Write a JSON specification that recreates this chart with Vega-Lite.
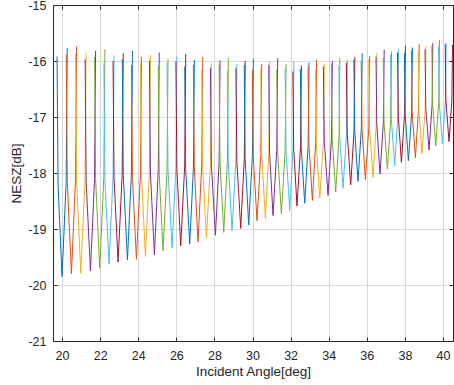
{
  "$schema": "https://vega.github.io/schema/vega-lite/v6.json",
  "width": 400,
  "height": 336,
  "autosize": {"type": "none"},
  "padding": {"left": 53, "top": 5, "right": 1, "bottom": 44},
  "background": "white",
  "config": {"view": {"stroke": "#262626", "strokeWidth": 1}, "font": "Liberation Sans"},
  "data": {"values": [
    {"b":1,"x":19.738,"y":-15.92},{"b":1,"x":19.790,"y":-18.20},{"b":1,"x":20.000,"y":-19.85},{"b":1,"x":20.218,"y":-18.14},{"b":1,"x":20.273,"y":-15.77},
    {"b":2,"x":20.221,"y":-15.89},{"b":2,"x":20.275,"y":-18.16},{"b":2,"x":20.493,"y":-19.80},{"b":2,"x":20.709,"y":-18.10},{"b":2,"x":20.764,"y":-15.74},
    {"b":3,"x":20.712,"y":-15.86},{"b":3,"x":20.766,"y":-18.14},{"b":3,"x":20.982,"y":-19.79},{"b":3,"x":21.206,"y":-18.14},{"b":3,"x":21.263,"y":-15.85},
    {"b":4,"x":21.211,"y":-15.97},{"b":4,"x":21.267,"y":-18.16},{"b":4,"x":21.491,"y":-19.75},{"b":4,"x":21.707,"y":-18.10},{"b":4,"x":21.761,"y":-15.82},
    {"b":5,"x":21.709,"y":-15.93},{"b":5,"x":21.763,"y":-18.12},{"b":5,"x":21.979,"y":-19.70},{"b":5,"x":22.195,"y":-18.06},{"b":5,"x":22.249,"y":-15.79},
    {"b":6,"x":22.197,"y":-16.04},{"b":6,"x":22.251,"y":-18.12},{"b":6,"x":22.467,"y":-19.63},{"b":6,"x":22.677,"y":-18.06},{"b":6,"x":22.730,"y":-15.90},
    {"b":7,"x":22.678,"y":-16.00},{"b":7,"x":22.730,"y":-18.08},{"b":7,"x":22.940,"y":-19.59},{"b":7,"x":23.158,"y":-18.02},{"b":7,"x":23.213,"y":-15.86},
    {"b":8,"x":23.161,"y":-15.97},{"b":8,"x":23.215,"y":-18.05},{"b":8,"x":23.433,"y":-19.55},{"b":8,"x":23.643,"y":-17.98},{"b":8,"x":23.695,"y":-15.82},
    {"b":9,"x":23.643,"y":-16.07},{"b":9,"x":23.695,"y":-18.08},{"b":9,"x":23.905,"y":-19.54},{"b":9,"x":24.115,"y":-18.02},{"b":9,"x":24.168,"y":-15.93},
    {"b":10,"x":24.116,"y":-16.04},{"b":10,"x":24.168,"y":-18.04},{"b":10,"x":24.378,"y":-19.49},{"b":10,"x":24.588,"y":-17.98},{"b":10,"x":24.640,"y":-15.89},
    {"b":11,"x":24.588,"y":-15.99},{"b":11,"x":24.640,"y":-18.00},{"b":11,"x":24.850,"y":-19.46},{"b":11,"x":25.052,"y":-17.94},{"b":11,"x":25.102,"y":-15.85},
    {"b":12,"x":25.050,"y":-16.09},{"b":12,"x":25.100,"y":-18.00},{"b":12,"x":25.302,"y":-19.39},{"b":12,"x":25.512,"y":-17.95},{"b":12,"x":25.564,"y":-15.96},
    {"b":13,"x":25.512,"y":-16.04},{"b":13,"x":25.564,"y":-17.95},{"b":13,"x":25.774,"y":-19.34},{"b":13,"x":25.978,"y":-17.90},{"b":13,"x":26.029,"y":-15.92},
    {"b":14,"x":25.977,"y":-16.01},{"b":14,"x":26.027,"y":-17.92},{"b":14,"x":26.231,"y":-19.30},{"b":14,"x":26.441,"y":-17.86},{"b":14,"x":26.493,"y":-15.87},
    {"b":15,"x":26.441,"y":-16.10},{"b":15,"x":26.493,"y":-17.94},{"b":15,"x":26.703,"y":-19.27},{"b":15,"x":26.898,"y":-17.89},{"b":15,"x":26.947,"y":-15.98},
    {"b":16,"x":26.895,"y":-16.07},{"b":16,"x":26.944,"y":-17.90},{"b":16,"x":27.139,"y":-19.23},{"b":16,"x":27.336,"y":-17.84},{"b":16,"x":27.386,"y":-15.93},
    {"b":17,"x":27.334,"y":-16.16},{"b":17,"x":27.383,"y":-17.89},{"b":17,"x":27.580,"y":-19.15},{"b":17,"x":27.790,"y":-17.84},{"b":17,"x":27.842,"y":-16.04},
    {"b":18,"x":27.790,"y":-16.12},{"b":18,"x":27.842,"y":-17.85},{"b":18,"x":28.052,"y":-19.11},{"b":18,"x":28.247,"y":-17.80},{"b":18,"x":28.296,"y":-15.99},
    {"b":19,"x":28.244,"y":-16.07},{"b":19,"x":28.293,"y":-17.80},{"b":19,"x":28.488,"y":-19.06},{"b":19,"x":28.683,"y":-17.75},{"b":19,"x":28.732,"y":-15.95},
    {"b":20,"x":28.680,"y":-16.17},{"b":20,"x":28.729,"y":-17.83},{"b":20,"x":28.924,"y":-19.03},{"b":20,"x":29.128,"y":-17.78},{"b":20,"x":29.179,"y":-16.05},
    {"b":21,"x":29.127,"y":-16.13},{"b":21,"x":29.177,"y":-17.79},{"b":21,"x":29.381,"y":-18.99},{"b":21,"x":29.569,"y":-17.73},{"b":21,"x":29.617,"y":-16.00},
    {"b":22,"x":29.565,"y":-16.07},{"b":22,"x":29.612,"y":-17.73},{"b":22,"x":29.800,"y":-18.93},{"b":22,"x":29.995,"y":-17.68},{"b":22,"x":30.044,"y":-15.96},
    {"b":23,"x":29.992,"y":-16.16},{"b":23,"x":30.041,"y":-17.72},{"b":23,"x":30.236,"y":-18.85},{"b":23,"x":30.433,"y":-17.67},{"b":23,"x":30.483,"y":-16.05},
    {"b":24,"x":30.431,"y":-16.13},{"b":24,"x":30.480,"y":-17.68},{"b":24,"x":30.677,"y":-18.81},{"b":24,"x":30.857,"y":-17.63},{"b":24,"x":30.903,"y":-16.00},
    {"b":25,"x":30.851,"y":-16.07},{"b":25,"x":30.896,"y":-17.63},{"b":25,"x":31.076,"y":-18.76},{"b":25,"x":31.273,"y":-17.58},{"b":25,"x":31.323,"y":-15.95},
    {"b":26,"x":31.271,"y":-16.16},{"b":26,"x":31.320,"y":-17.65},{"b":26,"x":31.517,"y":-18.73},{"b":26,"x":31.712,"y":-17.60},{"b":26,"x":31.761,"y":-16.05},
    {"b":27,"x":31.709,"y":-16.12},{"b":27,"x":31.758,"y":-17.60},{"b":27,"x":31.953,"y":-18.67},{"b":27,"x":32.127,"y":-17.55},{"b":27,"x":32.171,"y":-16.00},
    {"b":28,"x":32.119,"y":-16.19},{"b":28,"x":32.162,"y":-17.58},{"b":28,"x":32.336,"y":-18.59},{"b":28,"x":32.518,"y":-17.54},{"b":28,"x":32.564,"y":-16.08},
    {"b":29,"x":32.512,"y":-16.14},{"b":29,"x":32.558,"y":-17.53},{"b":29,"x":32.740,"y":-18.54},{"b":29,"x":32.922,"y":-17.49},{"b":29,"x":32.968,"y":-16.03},
    {"b":30,"x":32.916,"y":-16.10},{"b":30,"x":32.962,"y":-17.49},{"b":30,"x":33.144,"y":-18.49},{"b":30,"x":33.318,"y":-17.44},{"b":30,"x":33.362,"y":-15.98},
    {"b":31,"x":33.310,"y":-16.16},{"b":31,"x":33.353,"y":-17.49},{"b":31,"x":33.527,"y":-18.45},{"b":31,"x":33.722,"y":-17.44},{"b":31,"x":33.771,"y":-16.05},
    {"b":32,"x":33.719,"y":-16.10},{"b":32,"x":33.768,"y":-17.43},{"b":32,"x":33.963,"y":-18.40},{"b":32,"x":34.145,"y":-17.39},{"b":32,"x":34.191,"y":-16.00},
    {"b":33,"x":34.139,"y":-16.05},{"b":33,"x":34.185,"y":-17.38},{"b":33,"x":34.367,"y":-18.34},{"b":33,"x":34.541,"y":-17.34},{"b":33,"x":34.585,"y":-15.95},
    {"b":34,"x":34.533,"y":-16.09},{"b":34,"x":34.577,"y":-17.35},{"b":34,"x":34.751,"y":-18.27},{"b":34,"x":34.933,"y":-17.31},{"b":34,"x":34.979,"y":-15.98},
    {"b":35,"x":34.927,"y":-16.03},{"b":35,"x":34.973,"y":-17.29},{"b":35,"x":35.155,"y":-18.21},{"b":35,"x":35.329,"y":-17.25},{"b":35,"x":35.373,"y":-15.93},
    {"b":36,"x":35.321,"y":-15.98},{"b":36,"x":35.364,"y":-17.24},{"b":36,"x":35.538,"y":-18.15},{"b":36,"x":35.714,"y":-17.19},{"b":36,"x":35.758,"y":-15.86},
    {"b":37,"x":35.706,"y":-16.01},{"b":37,"x":35.750,"y":-17.23},{"b":37,"x":35.926,"y":-18.12},{"b":37,"x":36.106,"y":-17.19},{"b":37,"x":36.152,"y":-15.91},
    {"b":38,"x":36.100,"y":-15.97},{"b":38,"x":36.145,"y":-17.19},{"b":38,"x":36.325,"y":-18.08},{"b":38,"x":36.493,"y":-17.15},{"b":38,"x":36.535,"y":-15.86},
    {"b":39,"x":36.483,"y":-15.92},{"b":39,"x":36.525,"y":-17.14},{"b":39,"x":36.693,"y":-18.02},{"b":39,"x":36.869,"y":-17.09},{"b":39,"x":36.913,"y":-15.80},
    {"b":40,"x":36.861,"y":-15.95},{"b":40,"x":36.905,"y":-17.10},{"b":40,"x":37.081,"y":-17.93},{"b":40,"x":37.255,"y":-17.05},{"b":40,"x":37.299,"y":-15.83},
    {"b":41,"x":37.247,"y":-15.89},{"b":41,"x":37.290,"y":-17.04},{"b":41,"x":37.464,"y":-17.87},{"b":41,"x":37.626,"y":-17.00},{"b":41,"x":37.666,"y":-15.79},
    {"b":42,"x":37.614,"y":-15.85},{"b":42,"x":37.654,"y":-16.99},{"b":42,"x":37.816,"y":-17.81},{"b":42,"x":37.984,"y":-16.94},{"b":42,"x":38.026,"y":-15.73},
    {"b":43,"x":37.974,"y":-15.86},{"b":43,"x":38.016,"y":-16.97},{"b":43,"x":38.184,"y":-17.78},{"b":43,"x":38.352,"y":-16.93},{"b":43,"x":38.394,"y":-15.76},
    {"b":44,"x":38.342,"y":-15.81},{"b":44,"x":38.383,"y":-16.92},{"b":44,"x":38.551,"y":-17.73},{"b":44,"x":38.711,"y":-16.88},{"b":44,"x":38.751,"y":-15.70},
    {"b":45,"x":38.699,"y":-15.83},{"b":45,"x":38.738,"y":-16.89},{"b":45,"x":38.898,"y":-17.65},{"b":45,"x":39.066,"y":-16.85},{"b":45,"x":39.108,"y":-15.74},
    {"b":46,"x":39.056,"y":-15.79},{"b":46,"x":39.097,"y":-16.83},{"b":46,"x":39.265,"y":-17.59},{"b":46,"x":39.427,"y":-16.79},{"b":46,"x":39.467,"y":-15.68},
    {"b":47,"x":39.415,"y":-15.73},{"b":47,"x":39.455,"y":-16.77},{"b":47,"x":39.617,"y":-17.52},{"b":47,"x":39.778,"y":-16.72},{"b":47,"x":39.819,"y":-15.62},
    {"b":48,"x":39.767,"y":-15.74},{"b":48,"x":39.807,"y":-16.75},{"b":48,"x":39.968,"y":-17.48},{"b":48,"x":40.128,"y":-16.72},{"b":48,"x":40.168,"y":-15.67},
    {"b":49,"x":40.116,"y":-15.70},{"b":49,"x":40.155,"y":-16.71},{"b":49,"x":40.315,"y":-17.44},{"b":49,"x":40.463,"y":-16.71},{"b":49,"x":40.500,"y":-15.71}
  ]},
  "layer": [
    {
      "mark": {"type": "line", "strokeWidth": 1, "clip": true},
      "encoding": {
        "x": {"field": "x", "type": "quantitative",
          "scale": {"domain": [19.525, 40.525], "nice": false, "zero": false},
          "axis": {"orient": "bottom", "values": [20,22,24,26,28,30,32,34,36,38,40], "title": "Incident Angle[deg]",
            "grid": true, "gridColor": "#d6d6d6", "gridWidth": 1, "tickSize": -4, "tickColor": "#262626", "domainColor": "#262626",
            "labelPadding": 12, "labelFontSize": 12.5, "labelColor": "#262626", "labelExpr": "datum.value + ''",
            "titleFontSize": 13.5, "titleFontWeight": "normal", "titleColor": "#262626", "titlePadding": 3}},
        "y": {"field": "y", "type": "quantitative",
          "scale": {"domain": [-21, -15], "nice": false, "zero": false},
          "axis": {"orient": "left", "values": [-21,-20,-19,-18,-17,-16,-15], "title": "NESZ[dB]",
            "grid": true, "gridColor": "#dcdcdc", "gridWidth": 1, "tickSize": -4, "tickColor": "#262626", "domainColor": "#262626",
            "labelPadding": 11, "labelFontSize": 12.5, "labelColor": "#262626", "labelExpr": "datum.value + ''",
            "titleFontSize": 13.5, "titleFontWeight": "normal", "titleColor": "#262626", "titlePadding": 4}},
        "color": {"field": "b", "type": "ordinal", "legend": null,
          "scale": {"range": ["#0072BD", "#D95319", "#EDB120", "#7E2F8E", "#77AC30", "#4DBEEE", "#A2142F"]}}
      }
    },
    {
      "mark": {"type": "point", "opacity": 0},
      "encoding": {
        "x": {"field": "x", "type": "quantitative",
          "axis": {"orient": "top", "values": [20,22,24,26,28,30,32,34,36,38,40], "title": null, "labels": false,
            "grid": false, "tickSize": -4, "tickColor": "#262626", "domainColor": "#262626"}},
        "y": {"field": "y", "type": "quantitative",
          "axis": {"orient": "right", "values": [-21,-20,-19,-18,-17,-16,-15], "title": null, "labels": false,
            "grid": false, "tickSize": -4, "tickColor": "#262626", "domainColor": "#262626"}}
      }
    }
  ],
  "resolve": {"axis": {"x": "independent", "y": "independent"}}
}
